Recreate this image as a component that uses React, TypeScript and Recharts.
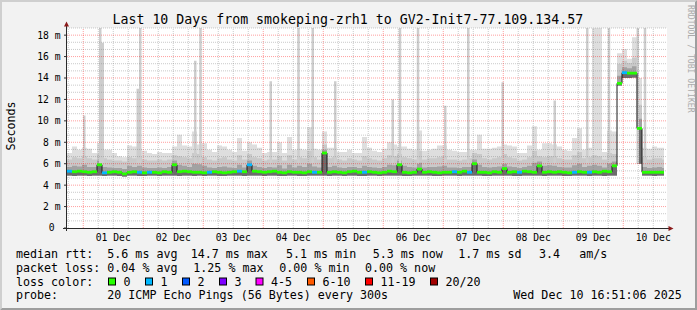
import React from "react";
import {
  ComposedChart,
  Area,
  Line,
  Scatter,
  XAxis,
  YAxis,
  ReferenceLine,
  CartesianGrid,
} from "recharts";

// ---------- layout ----------
const WIDTH = 697;
const HEIGHT = 310;
const PLOT_LEFT = 67;
const PLOT_TOP = 28;
const PLOT_W = 600;
const PLOT_H = 200;
const MONO = '"DejaVu Sans Mono", "Liberation Mono", monospace';

// ---------- time / value frame ----------
const HOURS_SPAN = 240; // 10 days
const BIN_HOURS = 2;
const DATA_END_HOUR = 238.8;
const Y_MAX = 56 / 3;

// ---------- data (ms, per 2-hour bin) ----------
const medianMs = [
  5.3, 5.25, 5.3, 5.25, 5.2, 5.25, 5.9, 5.15, 5.2, 5.25,
  5.2, 5.05, 5.2, 5.25, 5.2, 5.15, 5.2, 5.2, 5.15, 5.25,
  5.2, 5.9, 5.25, 5.3, 5.25, 5.2, 5.2, 5.15, 5.2, 5.25,
  5.2, 5.15, 5.2, 5.25, 5.3, 5.25, 5.9, 5.3, 5.25, 5.2,
  5.25, 5.3, 5.2, 5.15, 5.25, 5.2, 5.2, 5.15, 5.25, 5.2,
  5.2, 7.0, 5.2, 5.25, 5.2, 5.15, 5.25, 5.3, 5.2, 5.2,
  5.25, 5.2, 5.15, 5.2, 5.3, 5.25, 5.9, 5.2, 5.15, 5.2,
  5.5, 5.2, 5.25, 5.2, 5.15, 5.2, 5.2, 5.25, 5.2, 5.3,
  5.2, 6.0, 5.2, 5.2, 5.15, 5.25, 5.2, 5.55, 5.2, 5.25,
  5.2, 5.3, 5.25, 5.2, 5.8, 5.2, 5.25, 5.2, 5.25, 5.2,
  5.15, 5.2, 5.25, 5.2, 5.2, 5.25, 5.2, 5.3, 5.25, 5.8,
  13.5, 14.5, 14.45, 14.45, 9.3, 5.2, 5.2, 5.2, 5.2, 5.2,
];

const lossCount = [
  1, 0, 0, 0, 0, 0, 0, 1, 0, 0,
  0, 0, 0, 0, 1, 0, 1, 0, 0, 0,
  0, 0, 0, 0, 0, 0, 0, 0, 1, 0,
  0, 0, 0, 0, 1, 0, 1, 0, 0, 0,
  0, 0, 0, 0, 0, 0, 0, 0, 0, 1,
  0, 0, 0, 0, 0, 0, 0, 0, 0, 1,
  0, 0, 0, 0, 0, 0, 0, 0, 0, 0,
  0, 0, 0, 0, 0, 0, 0, 1, 0, 0,
  1, 0, 0, 0, 0, 0, 0, 0, 0, 0,
  1, 0, 0, 0, 0, 0, 0, 0, 0, 0,
  0, 1, 0, 0, 1, 0, 0, 0, 0, 0,
  0, 1, 0, 0, 0, 0, 0, 0, 0, 0,
];

const minMs = [
  4.9, 4.85, 4.9, 4.9, 4.85, 4.9, 4.9, 4.85, 4.9, 4.9,
  4.85, 4.8, 4.9, 4.9, 4.85, 4.85, 4.9, 4.9, 4.85, 4.9,
  4.9, 4.9, 4.85, 4.9, 4.9, 4.85, 4.9, 4.85, 4.9, 4.9,
  4.85, 4.85, 4.9, 4.9, 4.9, 4.85, 4.9, 4.9, 4.9, 4.85,
  4.9, 4.9, 4.85, 4.85, 4.9, 4.9, 4.85, 4.85, 4.9, 4.9,
  4.9, 4.9, 4.85, 4.9, 4.9, 4.85, 4.9, 4.9, 4.85, 4.85,
  4.9, 4.9, 4.85, 4.9, 4.9, 4.9, 4.9, 4.85, 4.85, 4.9,
  4.9, 4.9, 4.9, 4.85, 4.85, 4.9, 4.9, 4.9, 4.85, 4.9,
  4.9, 4.9, 4.9, 4.85, 4.85, 4.9, 4.9, 4.9, 4.9, 4.85,
  4.85, 4.9, 4.9, 4.9, 4.9, 4.85, 4.9, 4.9, 4.9, 4.85,
  4.85, 4.9, 4.9, 4.9, 4.85, 4.9, 4.9, 4.85, 4.9, 4.9,
  13.3, 14.0, 14.0, 14.05, 6.0, 4.9, 4.9, 4.85, 4.9, 4.9,
];

const p75Ms = [
  5.7, 5.8, 5.75, 5.9, 5.7, 5.7, 6.3, 5.7, 5.65, 5.6,
  5.6, 5.5, 5.8, 5.7, 5.8, 5.65, 5.6, 5.6, 5.65, 5.6,
  5.7, 6.3, 5.9, 5.8, 5.7, 6.0, 5.95, 5.8, 5.65, 5.6,
  5.7, 5.75, 5.65, 5.6, 5.9, 5.65, 6.3, 5.8, 5.7, 5.6,
  5.7, 5.65, 5.85, 5.55, 5.9, 5.65, 5.8, 5.7, 6.0, 5.75,
  5.65, 7.3, 5.7, 5.8, 5.65, 5.6, 5.7, 5.7, 5.6, 5.8,
  5.7, 5.65, 5.6, 5.7, 5.9, 5.85, 6.3, 5.8, 5.7, 5.65,
  6.1, 5.65, 5.7, 5.7, 5.75, 5.8, 5.65, 5.65, 5.6, 5.7,
  5.7, 6.4, 5.9, 5.7, 5.65, 5.7, 5.75, 6.0, 5.75, 5.7,
  5.6, 5.7, 5.8, 6.1, 6.2, 5.8, 5.85, 5.8, 5.7, 5.65,
  5.65, 5.85, 6.0, 5.7, 5.8, 5.9, 5.8, 5.65, 6.1, 6.2,
  14.2, 15.0, 14.9, 15.1, 10.2, 5.7, 5.6, 5.65, 5.7, 5.6,
];

const p90Ms = [
  6.4, 6.6, 6.5, 6.7, 6.5, 6.4, 6.9, 6.5, 6.4, 6.3,
  6.3, 6.2, 6.6, 6.5, 6.6, 6.4, 6.3, 6.3, 6.4, 6.3,
  6.4, 6.8, 6.7, 6.6, 6.5, 7.0, 6.9, 6.6, 6.4, 6.3,
  6.5, 6.6, 6.4, 6.3, 6.8, 6.4, 6.9, 6.6, 6.5, 6.3,
  6.4, 6.4, 6.7, 6.3, 6.8, 6.4, 6.6, 6.5, 7.2, 6.6,
  6.4, 7.8, 6.5, 6.6, 6.4, 6.3, 6.5, 6.4, 6.3, 6.7,
  6.5, 6.4, 6.3, 6.5, 6.8, 6.7, 6.9, 6.6, 6.5, 6.4,
  7.2, 6.4, 6.5, 6.5, 6.6, 6.7, 6.4, 6.4, 6.3, 6.4,
  6.5, 7.0, 6.9, 6.5, 6.4, 6.5, 6.6, 6.9, 6.6, 6.5,
  6.3, 6.4, 6.6, 7.2, 6.7, 6.6, 6.7, 6.7, 6.5, 6.4,
  6.4, 6.8, 7.1, 6.5, 6.6, 6.8, 6.7, 6.4, 7.0, 6.9,
  15.3, 15.6, 15.4, 15.9, 11.5, 6.6, 6.4, 6.5, 6.5, 6.4,
];

const maxMs = [
  7.0, 7.6, 7.3, 7.5, 7.4, 7.0, 7.9, 7.3, 7.3, 7.0,
  6.7, 6.6, 7.7, 7.6, 7.4, 7.2, 7.0, 6.9, 7.1, 7.0,
  7.0, 7.6, 8.7, 7.7, 7.6, 9.0, 7.8, 7.9, 7.3, 7.1,
  7.7, 7.6, 7.3, 7.1, 8.4, 7.2, 8.0, 7.8, 7.5, 7.0,
  7.1, 7.1, 8.0, 7.0, 8.5, 7.3, 7.4, 7.3, 9.4, 7.4,
  7.3, 9.0, 7.5, 7.5, 7.1, 7.1, 7.3, 7.0, 7.0, 8.5,
  7.5, 7.2, 7.1, 7.4, 8.0, 7.8, 7.6, 7.6, 7.4, 7.3,
  9.1, 7.2, 7.3, 7.4, 7.7, 7.7, 7.3, 7.2, 7.1, 7.1,
  7.3, 7.3, 8.7, 7.4, 7.4, 7.5, 7.6, 7.8, 7.7, 7.6,
  7.0, 7.0, 7.7, 9.5, 7.3, 7.9, 7.9, 7.8, 7.6, 7.3,
  7.2, 8.4, 9.3, 7.3, 7.5, 18.66, 18.66, 7.1, 9.1, 9.0,
  16.3, 16.7, 15.8, 17.8, 14.0, 7.5, 7.4, 7.6, 7.5, 7.5,
];

// single-hour outlier spikes (hour from graph start, top in ms)
const spikeHour = [
  6.9, 13.3, 14.3, 28.3, 29.3, 51.3, 53.4, 81.5, 92.6, 98.3,
  107.3, 130.3, 133.2, 140.4, 151.3, 160.5, 174.3, 195.1, 208.1, 216.8,
  228.3, 231.2,
];
const spikeTopMs = [
  10.5, 18.66, 17.3, 13.0, 18.66, 15.6, 18.66, 13.7, 18.66, 18.66,
  13.7, 12.0, 18.66, 18.66, 11.4, 18.66, 13.6, 11.9, 18.66, 18.66,
  18.66, 18.66,
];
const SPIKE_BASE_MS = 6.0;

// ---------- axis ticks / labels ----------
const dayLabels = [
  "01 Dec", "02 Dec", "03 Dec", "04 Dec", "05 Dec",
  "06 Dec", "07 Dec", "08 Dec", "09 Dec", "10 Dec",
];
const dayLabelHours = [18.5, 42.5, 66.5, 90.5, 114.5, 138.5, 162.5, 186.5, 210.5, 234.5];
const midnightHours = [6.5, 30.5, 54.5, 78.5, 102.5, 126.5, 150.5, 174.5, 198.5, 222.5];
const yTicks = [0, 2, 4, 6, 8, 10, 12, 14, 16, 18];

// ---------- legend ----------
const titleText = "Last 10 Days from smokeping-zrh1 to GV2-Init7-77.109.134.57";
const medianStats = ["median rtt:", "5.6 ms avg", "14.7 ms max", "5.1 ms min", "5.3 ms now", "1.7 ms sd", "3.4", "am/s"];
const lossStats = ["packet loss:", "0.04 % avg", "1.25 % max", "0.00 % min", "0.00 % now"];
const lossLabels = ["0", "1", "2", "3", "4-5", "6-10", "11-19", "20/20"];
const lossColors = ["#26ff00", "#00b8ff", "#0059ff", "#7e00ff", "#ff00ff", "#ff5a00", "#ff0000", "#a10000"];
const probeText = ["probe:", "20 ICMP Echo Pings (56 Bytes) every 300s", "Wed Dec 10 16:51:06 2025"];

// legend positions (layout only)
const medianStatsX = [16, 107.3, 190.7, 286, 372.7, 458.3, 539, 579.3];
const lossStatsX = [16, 107.3, 193.3, 279.3, 365];
const lossBoxX = [108.5, 145.5, 182.5, 219.5, 256, 307.5, 365.5, 430.5];
const probeX = [16, 107.3, 513.3];
const ROW_Y = [258.3, 272, 285.7, 299.3];

// ---------- derived tables ----------
const bins = medianMs.map((m, i) => ({
  t: i * BIN_HOURS,
  median: m,
  loss: lossCount[i],
  lo: minMs[i],
  p75: p75Ms[i],
  p90: p90Ms[i],
  hi: maxMs[i],
}));
const chartData = [...bins, { ...bins[bins.length - 1], t: DATA_END_HOUR }];

const spikeData = spikeHour.flatMap((h, i) => [
  { t: h, v: SPIKE_BASE_MS },
  { t: h, v: spikeTopMs[i] },
  { t: h, v: null },
]);

const minorX: number[] = [];
for (let h = 0.5; h < HOURS_SPAN; h += 6) {
  if (!midnightHours.some((m) => Math.abs(m - h) < 1e-6)) minorX.push(h);
}
const minorY: number[] = [];
for (let k = 1; k <= 28; k++) {
  if (k % 3 !== 0) minorY.push((k * 2) / 3);
}
const majorY = [2, 4, 6, 8, 10, 12, 14, 16, 18];

const PX_PER_HOUR = PLOT_W / HOURS_SPAN;
const DASH_W = BIN_HOURS * PX_PER_HOUR;
const DATA_END_X = PLOT_LEFT + DATA_END_HOUR * PX_PER_HOUR;

const MedianDash = (props: any) => {
  const { cx, cy, payload } = props;
  if (cx == null || cy == null || isNaN(cx) || isNaN(cy)) return null;
  const w = Math.max(0, Math.min(DASH_W, DATA_END_X - cx));
  return <rect x={cx} y={cy - 1.4} width={w} height={2.8} fill={lossColors[payload.loss]} />;
};

const YTick = (props: any) => {
  const { x, y, payload } = props;
  const v = payload.value;
  const label = v === 0 ? "0" : `${v} m`;
  return (
    <text
      x={v === 0 ? x - 5.84 : x}
      y={y + 3.4}
      textAnchor="end"
      fontFamily={MONO}
      fontSize={9.7}
      fill="#000"
    >
      {label}
    </text>
  );
};

const XTick = (props: any) => {
  const { x, y, index } = props;
  return (
    <text x={x} y={y + 13} textAnchor="middle" fontFamily={MONO} fontSize={9.7} fill="#000">
      {dayLabels[index]}
    </text>
  );
};

const GRID_MINOR = { stroke: "#808080", strokeOpacity: 0.42, strokeDasharray: "1 1" };
const GRID_MAJOR = { stroke: "#ff0000", strokeOpacity: 0.38, strokeDasharray: "1 1" };

const LEG_FS = 11.67;

export default function App() {
  return (
    <div style={{ position: "absolute", left: 0, top: 0, width: WIDTH, height: HEIGHT, background: "#f2f2f2" }}>
      {/* frame */}
      <svg width={WIDTH} height={HEIGHT} style={{ position: "absolute", left: 0, top: 0 }}>
        <rect x={0} y={0} width={WIDTH} height={HEIGHT} fill="#f2f2f2" />
        <polygon points={`0,0 ${WIDTH},0 ${WIDTH - 2},2 2,2 2,${HEIGHT - 2} 0,${HEIGHT}`} fill="#cfcfcf" />
        <polygon
          points={`${WIDTH},0 ${WIDTH},${HEIGHT} 0,${HEIGHT} 2,${HEIGHT - 2} ${WIDTH - 2},${HEIGHT - 2} ${WIDTH - 2},2`}
          fill="#9e9e9e"
        />
      </svg>

      <div style={{ position: "absolute", left: 0, top: 0 }}>
        <ComposedChart
          width={WIDTH}
          height={HEIGHT}
          data={chartData}
          margin={{ top: PLOT_TOP, right: WIDTH - PLOT_LEFT - PLOT_W, bottom: 52, left: 0 }}
        >
          <CartesianGrid fill="#ffffff" horizontal={false} vertical={false} stroke="none" />
          <XAxis
            dataKey="t"
            type="number"
            domain={[0, HOURS_SPAN]}
            allowDataOverflow
            ticks={dayLabelHours}
            interval={0}
            tick={<XTick />}
            tickLine={false}
            axisLine={false}
            tickSize={0}
            tickMargin={0}
            height={30}
          />
          <YAxis
            type="number"
            domain={[0, Y_MAX]}
            allowDataOverflow
            ticks={yTicks}
            interval={0}
            tick={<YTick />}
            tickLine={{ stroke: "#333333" }}
            tickSize={3}
            tickMargin={3.5}
            axisLine={false}
            width={PLOT_LEFT}
          />

          <Line
            data={spikeData}
            dataKey="v"
            type="linear"
            stroke="#cdcdcd"
            strokeWidth={2.5}
            dot={false}
            activeDot={false}
            connectNulls={false}
            isAnimationActive={false}
          />
          <Area
            dataKey={(d: any) => [d.lo, d.hi]}
            type="stepAfter"
            stroke="none"
            fill="#dedede"
            fillOpacity={1}
            activeDot={false}
            isAnimationActive={false}
          />
          <Area
            dataKey={(d: any) => [d.lo, d.p90]}
            type="stepAfter"
            stroke="none"
            fill="#c9c9c9"
            fillOpacity={1}
            activeDot={false}
            isAnimationActive={false}
          />
          <Area
            dataKey={(d: any) => [d.lo, d.p75]}
            type="stepAfter"
            stroke="none"
            fill="#a2a2a2"
            fillOpacity={1}
            activeDot={false}
            isAnimationActive={false}
          />
          <Area
            dataKey={(d: any) => [d.lo, d.median]}
            type="stepAfter"
            stroke="none"
            fill="#6c6c6c"
            fillOpacity={1}
            activeDot={false}
            isAnimationActive={false}
          />

          {minorX.map((h) => (
            <ReferenceLine key={`mx${h}`} x={h} {...GRID_MINOR} />
          ))}
          {minorY.map((v) => (
            <ReferenceLine key={`my${v}`} y={v} {...GRID_MINOR} />
          ))}
          {midnightHours.map((h) => (
            <ReferenceLine key={`Mx${h}`} x={h} {...GRID_MAJOR} />
          ))}
          {majorY.map((v) => (
            <ReferenceLine key={`My${v}`} y={v} {...GRID_MAJOR} />
          ))}

          <Line
            dataKey="median"
            type="stepAfter"
            stroke="#1a1a1a"
            strokeWidth={1}
            dot={false}
            activeDot={false}
            isAnimationActive={false}
          />
          <Scatter data={bins} dataKey="median" shape={<MedianDash />} isAnimationActive={false} />
        </ComposedChart>
      </div>

      {/* axes, titles, legend */}
      <svg
        width={WIDTH}
        height={HEIGHT}
        style={{ position: "absolute", left: 0, top: 0, pointerEvents: "none" }}
        fontFamily={MONO}
      >
        <line x1={66.5} y1={231} x2={66.5} y2={25} stroke="#2a2a2a" strokeWidth={1} />
        <polygon points="64,26.5 69,26.5 66.5,21.5" fill="#8b1a1a" />
        <line x1={63} y1={228.5} x2={669} y2={228.5} stroke="#2a2a2a" strokeWidth={1} />
        <polygon points="668.5,226 668.5,231 673.5,228.5" fill="#8b1a1a" />

        <text x={112.5} y={24} fontSize={13.25} fill="#000">
          {titleText}
        </text>
        <text transform="translate(15,126) rotate(-90)" textAnchor="middle" fontSize={11.67} fill="#000">
          Seconds
        </text>
        <text transform="translate(688,5) rotate(90)" fontSize={8.15} fill="#ababab">
          RRDTOOL / TOBI OETIKER
        </text>

        {medianStats.map((s, i) => (
          <text key={`ms${i}`} x={medianStatsX[i]} y={ROW_Y[0]} fontSize={LEG_FS} fill="#000">
            {s}
          </text>
        ))}
        {lossStats.map((s, i) => (
          <text key={`ls${i}`} x={lossStatsX[i]} y={ROW_Y[1]} fontSize={LEG_FS} fill="#000">
            {s}
          </text>
        ))}
        <text x={16} y={ROW_Y[2]} fontSize={LEG_FS} fill="#000">
          loss color:
        </text>
        {lossLabels.map((s, i) => (
          <g key={`lc${i}`}>
            <rect
              x={lossBoxX[i]}
              y={278}
              width={7}
              height={7}
              fill={lossColors[i]}
              stroke="#000"
              strokeWidth={1}
            />
            <text x={lossBoxX[i] + 15} y={ROW_Y[2]} fontSize={LEG_FS} fill="#000">
              {s}
            </text>
          </g>
        ))}
        {probeText.map((s, i) => (
          <text key={`pr${i}`} x={probeX[i]} y={ROW_Y[3]} fontSize={LEG_FS} fill="#000">
            {s}
          </text>
        ))}
      </svg>
    </div>
  );
}
